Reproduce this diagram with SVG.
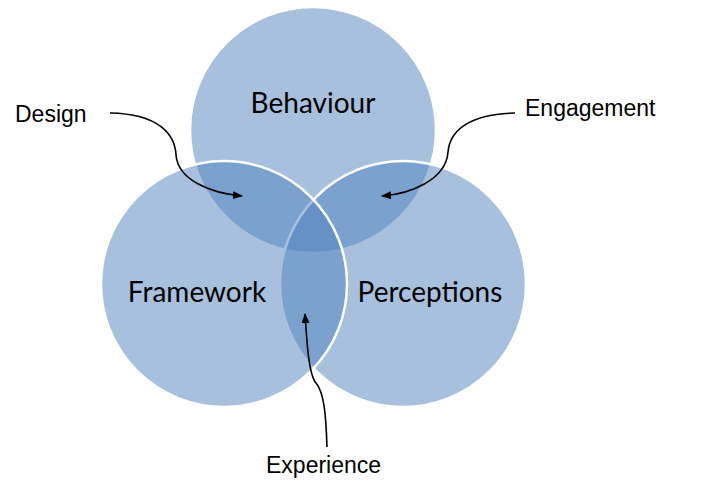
<svg xmlns="http://www.w3.org/2000/svg" width="727" height="495" viewBox="0 0 727 495">
<style>
.c{fill:#4F81BD;fill-opacity:0.5;stroke:#FFFFFF;stroke-width:2.5}
.big{font-family:Lato,"Open Sans",sans-serif;font-size:28px;fill:#000;text-anchor:middle}
.lbl{font-family:"Liberation Sans",Arial,sans-serif;font-size:23px;fill:#000}
.con{fill:none;stroke:#000;stroke-width:1.6;marker-end:url(#ah)}
</style>
<defs>
<marker id="ah" markerUnits="userSpaceOnUse" markerWidth="10" markerHeight="8" refX="9" refY="4" orient="auto">
<path d="M0,0 L10,4 L0,8 Z" fill="#000"/>
</marker>
</defs>
<rect width="727" height="495" fill="#fff"/>
<g id="behaviour"><circle class="c" cx="313" cy="130" r="123"/><text class="big" x="313" y="113">Behaviour</text></g>
<g id="perceptions"><circle class="c" cx="403" cy="284" r="123"/><text class="big" x="430" y="302">Perceptions</text></g>
<g id="framework"><circle class="c" cx="224" cy="284" r="123"/><text class="big" x="197" y="302">Framework</text></g>
<g id="design"><text class="lbl" x="15" y="122">Design</text></g>
<g id="engagement"><text class="lbl" x="525" y="116">Engagement</text></g>
<g id="experience"><text class="lbl" x="266" y="473">Experience</text></g>
<g id="connectors">
<path class="con" d="M110,113 C160,114 175,135 176,155 C178,180 210,193 242,196"/>
<path class="con" d="M515,113 C470,114 450,130 448,152 C446,180 410,194 382,196"/>
<path class="con" d="M327,447 C326,415 324,392 316,383 C309,375 307,345 305,314"/>
</g>
</svg>
